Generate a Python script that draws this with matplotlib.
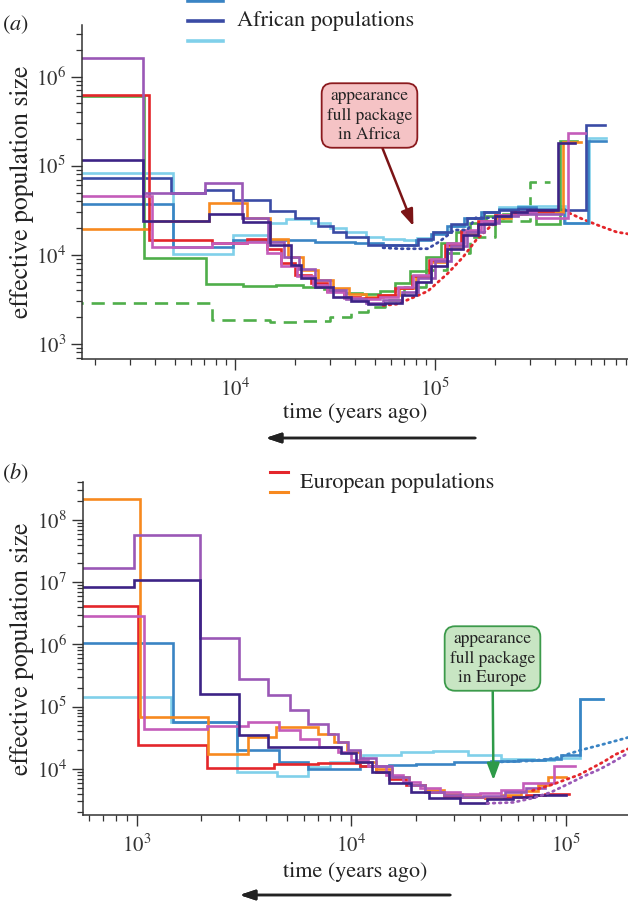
import matplotlib
matplotlib.use('Agg')
import matplotlib.pyplot as plt
from matplotlib.lines import Line2D

plt.rcParams['font.family'] = ['STIXGeneral', 'DejaVu Serif']
plt.rcParams['mathtext.fontset'] = 'stix'

# colours
C_PURPLE = '#9a58b6'
C_PINK = '#c45cba'
C_RED = '#e4262b'
C_ORANGE = '#f7891f'
C_GREEN = '#4fae4a'
C_INDIGO = '#3d2386'
C_NAVY = '#3a4ba5'
C_STEEL = '#3a84c4'
C_LIGHT = '#80d0ea'

# ---------------- panel (a): African populations ----------------
# step start times (years ago) and population sizes; last time = end of line
purple_a_t = [1.5e3, 3.47e3, 7.1e3, 1.08e4, 1.46e4, 1.75e4, 2.1e4, 2.5e4, 3.0e4, 3.6e4, 4.5e4,
              5.5e4, 6.8e4, 8.2e4, 1.0e5, 1.2e5, 1.45e5, 1.75e5, 2.1e5, 2.6e5, 4.3e5]
purple_a_n = [1.6e6, 5.0e4, 6.4e4, 2.6e4, 1.4e4, 9.5e3, 7.0e3, 5.2e3, 4.0e3, 3.2e3, 2.9e3,
              3.1e3, 3.8e3, 5.5e3, 8.5e3, 1.25e4, 1.8e4, 2.3e4, 2.7e4, 2.9e4]

pink_a_t = [1.5e3, 3.85e3, 7.7e3, 1.15e4, 1.45e4, 1.7e4, 2.05e4, 2.45e4, 2.9e4, 3.5e4, 4.3e4,
            5.3e4, 6.5e4, 7.8e4, 9.5e4, 1.15e5, 1.4e5, 1.7e5, 2.1e5, 2.6e5, 3.2e5, 4.6e5, 5.6e5]
pink_a_n = [4.6e4, 1.23e4, 1.35e4, 1.4e4, 1.05e4, 7.5e3, 5.8e3, 4.6e3, 3.8e3, 3.3e3, 3.2e3,
            3.4e3, 4.3e3, 6.0e3, 9.0e3, 1.35e4, 1.9e4, 2.4e4, 2.8e4, 3.0e4, 2.6e4, 2.35e5]

red_a_t = [1.5e3, 3.7e3, 7.7e3, 1.15e4, 1.45e4, 1.7e4, 2.0e4, 2.4e4, 2.9e4, 3.5e4, 4.2e4,
           5.2e4, 6.3e4, 7.7e4, 9.3e4, 1.12e5, 1.35e5, 1.65e5, 2.0e5, 2.5e5, 3.1e5, 3.9e5]
red_a_n = [6.2e5, 1.48e4, 1.35e4, 1.5e4, 1.15e4, 8.0e3, 6.0e3, 4.8e3, 3.9e3, 3.4e3, 3.3e3,
           3.5e3, 4.2e3, 5.8e3, 8.8e3, 1.3e4, 1.85e4, 2.4e4, 2.8e4, 3.0e4, 3.1e4]

orange_a_t = [1.5e3, 3.7e3, 7.4e3, 1.15e4, 1.5e4, 1.85e4, 2.2e4, 2.6e4, 3.1e4, 3.7e4, 4.5e4,
              5.5e4, 6.6e4, 8.0e4, 9.6e4, 1.15e5, 1.38e5, 1.65e5, 2.0e5, 2.4e5, 2.9e5, 4.37e5, 5.4e5]
orange_a_n = [1.95e4, 2.4e4, 3.8e4, 2.6e4, 1.5e4, 9.5e3, 6.8e3, 5.2e3, 4.2e3, 3.6e3, 3.4e3,
              3.5e3, 4.2e3, 5.8e3, 8.3e3, 1.2e4, 1.7e4, 2.2e4, 2.6e4, 2.9e4, 3.0e4, 1.85e5]

indigo_a_t = [1.5e3, 3.45e3, 7.4e3, 1.1e4, 1.5e4, 1.9e4, 2.15e4, 2.5e4, 3.1e4, 3.8e4, 4.6e4,
              5.6e4, 6.8e4, 8.0e4, 9.6e4, 1.15e5, 1.38e5, 1.65e5, 2.0e5, 2.4e5, 2.9e5, 4.1e5, 5.0e5]
indigo_a_n = [1.15e5, 2.4e4, 2.9e4, 2.35e4, 1.3e4, 7.7e3, 5.5e3, 4.3e3, 3.4e3, 3.0e3, 2.8e3,
              2.9e3, 3.5e3, 5.0e3, 7.5e3, 1.15e4, 1.65e4, 2.2e4, 2.7e4, 3.0e4, 3.2e4, 1.8e5]

green_a_t = [1.5e3, 3.5e3, 7.2e3, 1.1e4, 1.6e4, 2.2e4, 2.8e4, 3.5e4, 4.3e4, 5.3e4, 6.3e4,
             7.5e4, 9.0e4, 1.07e5, 1.27e5, 1.5e5, 1.8e5, 2.2e5, 2.7e5, 3.2e5, 4.2e5, 5.1e5]
green_a_n = [6.0e5, 9.3e3, 4.7e3, 4.5e3, 4.6e3, 4.4e3, 4.1e3, 3.7e3, 3.6e3, 3.9e3, 4.8e3,
             6.5e3, 9.5e3, 1.35e4, 1.8e4, 2.3e4, 2.7e4, 2.9e4, 3.0e4, 2.2e4, 1.9e5]

green_dash_a_t = [1.5e3, 7.7e3, 1.5e4, 2.2e4, 3.0e4, 3.8e4, 4.6e4, 5.6e4, 7.0e4, 9.0e4, 1.15e5,
                  1.5e5, 2.0e5, 3.0e5, 3.76e5]
green_dash_a_n = [2.9e3, 1.85e3, 1.75e3, 1.8e3, 2.0e3, 2.3e3, 2.6e3, 3.1e3, 4.3e3, 6.8e3, 1.05e4,
                  1.6e4, 2.4e4, 6.5e4]

steel_a_t = [1.5e3, 4.9e3, 9.8e3, 1.5e4, 2.5e4, 4.0e4, 5.5e4, 6.8e4, 8.0e4, 9.5e4, 1.15e5,
             1.4e5, 1.7e5, 2.1e5, 2.6e5, 3.2e5, 4.4e5, 5.8e5, 7.2e5]
steel_a_n = [3.7e4, 1.23e4, 1.47e4, 1.45e4, 1.4e4, 1.35e4, 1.3e4, 1.3e4, 1.45e4, 1.7e4, 2.1e4,
             2.6e4, 3.0e4, 3.3e4, 3.4e4, 3.3e4, 2.3e4, 1.9e5]

navy_a_t = [1.5e3, 4.8e3, 7.1e3, 9.8e3, 1.5e4, 2.0e4, 2.6e4, 3.1e4, 3.6e4, 4.6e4, 6.7e4,
            8.2e4, 9.8e4, 1.2e5, 1.45e5, 1.75e5, 2.1e5, 2.6e5, 3.2e5, 5.7e5, 7.1e5]
navy_a_n = [7.2e4, 5.0e4, 5.4e4, 4.1e4, 3.1e4, 2.6e4, 2.1e4, 1.8e4, 1.6e4, 1.3e4, 1.3e4,
            1.5e4, 1.8e4, 2.2e4, 2.6e4, 3.0e4, 3.2e4, 3.3e4, 3.2e4, 2.9e5]

light_a_t = [1.5e3, 4.9e3, 9.8e3, 1.5e4, 1.8e4, 2.4e4, 3.0e4, 3.6e4, 4.5e4, 5.5e4, 7.0e4,
             8.1e4, 9.8e4, 1.19e5, 1.45e5, 1.74e5, 2.1e5, 2.6e5, 4.47e5, 5.9e5, 7.2e5]
light_a_n = [8.2e4, 1.02e4, 1.66e4, 2.3e4, 2.5e4, 2.3e4, 2.0e4, 1.8e4, 1.6e4, 1.5e4, 1.45e4,
             1.55e4, 1.8e4, 2.1e4, 2.6e4, 3.0e4, 3.4e4, 3.5e4, 2.3e4, 2.05e5]

red_dot_a_t = [5.5e4, 6.5e4, 7.5e4, 9.2e4, 1.16e5, 1.38e5, 1.6e5, 1.9e5, 2.3e5, 2.9e5, 3.6e5,
               4.6e5, 5.5e5, 6.7e5, 8.1e5, 9.5e5]
red_dot_a_n = [2.7e3, 2.8e3, 3.2e3, 3.9e3, 6.2e3, 9.4e3, 1.45e4, 2.1e4, 2.7e4, 3.0e4, 3.1e4,
               3.0e4, 2.5e4, 2.1e4, 1.8e4, 1.7e4]

navy_dot_a_t = [5.5e4, 6.7e4, 9.2e4, 1.05e5, 1.25e5, 1.45e5, 1.6e5, 1.95e5]
navy_dot_a_n = [1.2e4, 1.17e4, 1.17e4, 1.4e4, 1.9e4, 1.9e4, 2.6e4, 2.6e4]

# ---------------- panel (b): European populations ----------------
orange_b_t = [500, 1.04e3, 2.15e3, 3.3e3, 4.45e3, 7.0e3, 8.3e3, 9.6e3, 1.1e4, 1.3e4, 1.55e4,
              1.85e4, 2.2e4, 2.7e4, 3.3e4, 4.0e4, 5.0e4, 6.2e4, 7.4e4, 8.3e4, 1.0e5]
orange_b_n = [2.2e8, 6.9e4, 1.75e4, 3.3e4, 4.8e4, 3.7e4, 2.7e4, 1.9e4, 1.3e4, 1.0e4, 7.5e3,
              5.5e3, 4.6e3, 4.0e3, 3.7e3, 3.6e3, 3.8e3, 4.4e3, 5.5e3, 7.4e3]

red_b_t = [500, 1.02e3, 2.12e3, 4.36e3, 7.0e3, 1.1e4, 1.3e4, 1.5e4, 1.8e4, 2.2e4, 2.7e4,
           3.3e4, 4.2e4, 5.2e4, 6.5e4, 8.0e4, 1.03e5]
red_b_n = [4.2e6, 2.45e4, 1.04e4, 1.2e4, 1.25e4, 1.1e4, 9.0e3, 7.0e3, 5.5e3, 4.3e3, 3.7e3,
           3.5e3, 3.4e3, 3.6e3, 3.8e3, 3.9e3]

pink_b_t = [500, 1.08e3, 2.12e3, 3.3e3, 4.6e3, 5.8e3, 7.1e3, 8.7e3, 1.0e4, 1.2e4, 1.45e4,
            1.75e4, 2.1e4, 2.6e4, 3.2e4, 4.0e4, 5.0e4, 6.3e4, 8.8e4, 1.1e5]
pink_b_n = [2.9e6, 4.4e4, 4.9e4, 5.7e4, 4.3e4, 3.05e4, 2.27e4, 1.9e4, 1.4e4, 1.1e4, 8.0e3,
            6.2e3, 5.0e3, 4.3e3, 4.0e3, 4.1e3, 4.6e3, 6.0e3, 1.1e4]

purple_b_t = [500, 970, 1.97e3, 3.0e3, 4.1e3, 5.2e3, 6.3e3, 7.8e3, 8.7e3, 9.7e3, 1.1e4,
              1.3e4, 1.55e4, 1.85e4, 2.2e4, 2.7e4, 3.3e4, 4.1e4, 5.2e4, 6.5e4, 8.0e4]
purple_b_n = [1.7e7, 5.7e7, 1.25e6, 2.8e5, 1.56e5, 8.9e4, 5.3e4, 3.7e4, 2.7e4, 2.0e4, 1.5e4,
              1.1e4, 7.5e3, 5.5e3, 4.3e3, 3.8e3, 3.6e3, 3.7e3, 4.2e3, 5.0e3]

indigo_b_t = [500, 970, 1.97e3, 3.0e3, 4.08e3, 9.0e3, 1.05e4, 1.25e4, 1.5e4, 1.9e4, 2.3e4,
              3.2e4, 4.3e4, 5.7e4, 7.1e4, 1.0e5]
indigo_b_n = [8.3e6, 1.07e7, 1.6e5, 3.5e4, 2.27e4, 1.8e4, 1.3e4, 9.0e3, 6.0e3, 4.3e3, 3.4e3,
              2.8e3, 3.3e3, 3.6e3, 3.8e3]

steel_b_t = [500, 1.47e3, 2.95e3, 4.6e3, 6.3e3, 1.1e4, 1.5e4, 2.0e4, 3.0e4, 4.5e4, 6.0e4,
             8.0e4, 9.5e4, 1.17e5, 1.49e5]
steel_b_n = [1.07e6, 5.7e4, 2.0e4, 1.3e4, 1.0e4, 1.1e4, 1.15e4, 1.2e4, 1.3e4, 1.35e4, 1.4e4,
             1.45e4, 1.7e4, 1.35e5]

light_b_t = [500, 1.44e3, 2.95e3, 4.5e3, 6.3e3, 8.0e3, 1.14e4, 1.7e4, 2.4e4, 3.5e4, 5.0e4,
             7.1e4, 8.8e4, 1.17e5, 1.49e5]
light_b_n = [1.45e5, 5.7e4, 9.0e3, 7.7e3, 1.08e4, 1.3e4, 1.7e4, 1.88e4, 1.95e4, 1.7e4, 1.45e4,
             1.4e4, 1.5e4, 1.35e5]

red_dot_b_t = [7.0e4, 8.5e4, 1.02e5, 1.15e5, 1.3e5, 1.5e5, 1.7e5, 1.95e5]
red_dot_b_n = [4.5e3, 5.5e3, 6.9e3, 8.0e3, 1.0e4, 1.3e4, 1.7e4, 2.1e4]

purple_dot_b_t = [4.3e4, 5.7e4, 7.0e4, 8.5e4, 1.0e5, 1.2e5, 1.45e5, 1.7e5, 1.95e5]
purple_dot_b_n = [2.8e3, 2.9e3, 3.4e3, 4.2e3, 5.5e3, 7.5e3, 1.0e4, 1.35e4, 1.8e4]

steel_dot_b_t = [5.0e4, 7.0e4, 9.0e4, 1.17e5, 1.5e5, 1.95e5]
steel_dot_b_n = [1.3e4, 1.35e4, 1.5e4, 2.0e4, 2.5e4, 3.2e4]

LW = 1.9


def steps(ax, t, n, color, ls='-', z=2):
    ax.step(t, list(n) + [n[-1]], where='post', color=color, lw=LW, ls=ls, zorder=z,
            solid_joinstyle='miter')


def dots(ax, t, n, color, z=1.5):
    ax.plot(t, n, color=color, lw=2.0, ls=(0, (0.6, 1.6)), dash_capstyle='round', zorder=z)


def style(ax):
    ax.set_xscale('log')
    ax.set_yscale('log')
    for s in ['top', 'right']:
        ax.spines[s].set_visible(False)
    for s in ['left', 'bottom']:
        ax.spines[s].set_color('#333333')
        ax.spines[s].set_linewidth(1.1)
    ax.tick_params(which='major', length=8, width=1.0, color='#333333', labelsize=15,
                   labelcolor='#333333', direction='out')
    ax.tick_params(which='minor', length=4, width=0.9, color='#333333', direction='out')
    ax.tick_params(axis='x', which='major', pad=6)


fig = plt.figure(figsize=(6.28, 9.01), dpi=100)

axa = fig.add_axes([82 / 628, 1 - 359 / 901, 546 / 628, 334 / 901])
style(axa)
steps(axa, green_dash_a_t, green_dash_a_n, C_GREEN, ls=(0, (5, 3)), z=1)
dots(axa, red_dot_a_t, red_dot_a_n, C_RED)
steps(axa, light_a_t, light_a_n, C_LIGHT)
steps(axa, steel_a_t, steel_a_n, C_STEEL)
steps(axa, navy_a_t, navy_a_n, C_NAVY)
dots(axa, navy_dot_a_t, navy_dot_a_n, C_NAVY, z=2.5)
steps(axa, green_a_t, green_a_n, C_GREEN)
steps(axa, orange_a_t, orange_a_n, C_ORANGE)
steps(axa, red_a_t, red_a_n, C_RED)
steps(axa, pink_a_t, pink_a_n, C_PINK)
steps(axa, purple_a_t, purple_a_n, C_PURPLE)
steps(axa, indigo_a_t, indigo_a_n, C_INDIGO)
axa.set_xlim(10 ** 3.235, 10 ** 5.965)
axa.set_ylim(10 ** 2.83, 10 ** 6.58)

axb = fig.add_axes([83 / 628, 1 - 815 / 901, 545 / 628, 333 / 901])
style(axb)
steps(axb, light_b_t, light_b_n, C_LIGHT)
steps(axb, steel_b_t, steel_b_n, C_STEEL)
dots(axb, steel_dot_b_t, steel_dot_b_n, C_STEEL, z=3)
steps(axb, red_b_t, red_b_n, C_RED)
steps(axb, orange_b_t, orange_b_n, C_ORANGE)
steps(axb, pink_b_t, pink_b_n, C_PINK)
steps(axb, purple_b_t, purple_b_n, C_PURPLE)
steps(axb, indigo_b_t, indigo_b_n, C_INDIGO)
dots(axb, red_dot_b_t, red_dot_b_n, C_RED, z=3)
dots(axb, purple_dot_b_t, purple_dot_b_n, C_PURPLE, z=3)
axb.set_xlim(10 ** 2.75, 10 ** 5.29)
axb.set_ylim(10 ** 3.26, 10 ** 8.61)

W, H = 628, 901


def fx(px):
    return px / W


def fy(py):
    return 1 - py / H


# panel letters and axis labels
fig.text(fx(2), fy(25), r'$(a)$', fontsize=16, va='center', ha='left', color='#222222')
fig.text(fx(2), fy(473), r'$(b)$', fontsize=16, va='center', ha='left', color='#222222')
for yc in [(25 + 359) / 2, (482 + 815) / 2]:
    fig.text(fx(22), fy(yc), 'effective population size', rotation=90, fontsize=18.5,
             va='center', ha='center', color='#222222')
fig.text(fx(355), fy(413), 'time (years ago)', fontsize=16, va='center', ha='center',
         color='#222222')
fig.text(fx(355), fy(872), 'time (years ago)', fontsize=16, va='center', ha='center',
         color='#222222')

# direction arrows under the x axes
for x0, x1, yy in [(478, 263, 438), (453, 237, 895)]:
    fig.add_artist(plt.annotate('', xy=(fx(x1), fy(yy)), xytext=(fx(x0), fy(yy)),
                                xycoords='figure fraction', textcoords='figure fraction',
                                arrowprops=dict(arrowstyle='-|>,head_length=0.9,head_width=0.3',
                                                color='#222222', lw=1.8)))

# legends
for yy, c in [(1, C_STEEL), (21, C_NAVY), (41, C_LIGHT)]:
    fig.add_artist(Line2D([fx(188), fx(223)], [fy(yy), fy(yy)], color=c, lw=2.6))
fig.text(fx(237), fy(21), 'African populations', fontsize=16, va='center', ha='left',
         color='#222222')
fig.add_artist(Line2D([fx(270), fx(288)], [fy(472), fy(472)], color=C_RED, lw=2.2))
fig.add_artist(Line2D([fx(270), fx(288)], [fy(492), fy(492)], color=C_ORANGE, lw=2.2))
fig.text(fx(300), fy(483), 'European populations', fontsize=16, va='center', ha='left',
         color='#222222')

# annotations
axa.annotate('appearance\nfull package\nin Africa', xy=(7.8e4, 2.1e4),
             xytext=(fx(369.5), fy(115.5)), textcoords='figure fraction',
             ha='center', va='center', fontsize=12.5, color='#222222', linespacing=1.25,
             bbox=dict(boxstyle='round,pad=0.3,rounding_size=0.6', fc='#f5c3c5',
                       ec='#8b1a1e', lw=1.3),
             arrowprops=dict(arrowstyle='-|>,head_length=0.8,head_width=0.3',
                             color='#7b1416', lw=1.8, shrinkA=0, shrinkB=0))
axb.annotate('appearance\nfull package\nin Europe', xy=(4.6e4, 6.6e3),
             xytext=(fx(492.5), fy(658.5)), textcoords='figure fraction',
             ha='center', va='center', fontsize=12.5, color='#222222', linespacing=1.25,
             bbox=dict(boxstyle='round,pad=0.3,rounding_size=0.6', fc='#c8e5c3',
                       ec='#3c9a4b', lw=1.3),
             arrowprops=dict(arrowstyle='-|>,head_length=0.8,head_width=0.3',
                             color='#2e9a48', lw=1.8, shrinkA=0, shrinkB=0))

fig.savefig('out.png', dpi=100)
